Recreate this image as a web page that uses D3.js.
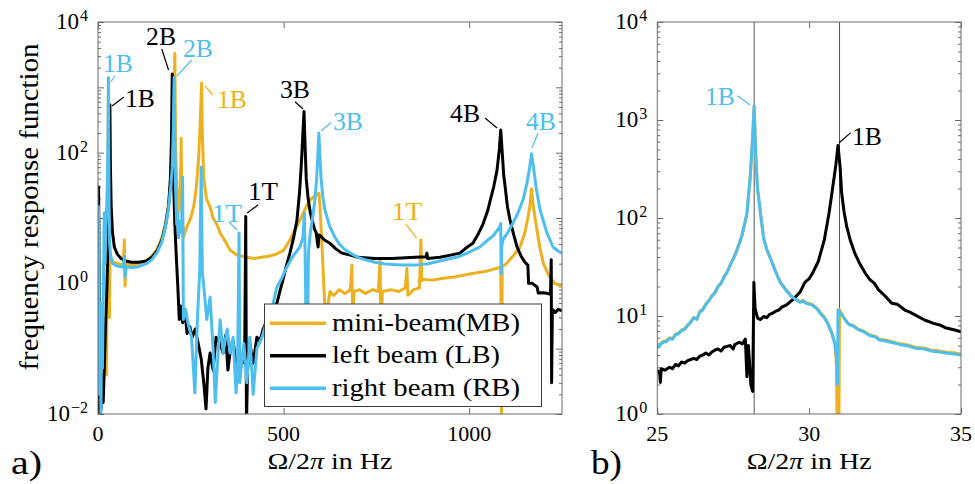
<!DOCTYPE html>
<html>
<head>
<meta charset="utf-8">
<script src="https://cdn.jsdelivr.net/npm/d3@7"></script>
<style>
  html, body { margin: 0; padding: 0; background: #fff; }
  svg { display: block; }
  text { font-family: "Liberation Serif", "Times New Roman", serif; fill: #000; }
</style>
</head>
<body>
<svg id="chart" width="975" height="484"></svg>
<script>
// ---------------------------------------------------------------
// Frequency response functions of the three beams
// ---------------------------------------------------------------
const seriesNames  = ["mini-beam(MB)", "left beam (LB)", "right beam (RB)"];
const seriesKeys   = ["MB", "LB", "RB"];
const seriesColors = ["#EDB120", "#000000", "#4DBEEE"];

// panel a) axes
const freqDomainA  = [0, 1250];
const freqTicksA   = [0, 500, 1000];
const decadesA     = [-2, -1, 0, 1, 2, 3, 4];
const decadeLabelsA = [-2, 0, 2, 4];

// panel b) axes
const freqDomainB  = [25, 35];
const freqTicksB   = [25, 30, 35];
const decadesB     = [0, 1, 2, 3, 4];
const decadeLabelsB = [0, 1, 2, 3, 4];

// panel a) measured FRF magnitudes, [frequency in Hz, |H|]
const miniBeamA = [[0.5,0.008],[1.5,5],[3,0.3],[5,0.012],[8,0.1],[11,0.02],[14,0.2],[17,0.05],[20,0.3],[23,0.04],[25,5],[27,100],[28.2,1400],[29,100],[30.2,5],[31,0.3],[32,3],[34,2.6],[40,2.1],[55,2.0],[68,1.9],[71,4.6],[73,0.9],[75,2.0],[90,1.9],[110,2.0],[130,2.2],[145,2.6],[160,3.4],[172,5],[182,8.5],[190,16],[197,40],[202,150],[205,700],[207,3300],[209,150],[212,30],[216,12],[220,20],[223,60],[224,166],[226,15],[230,5],[236,6.5],[242,8],[250,10],[258,15],[265,30],[271,80],[275,250],[279,1170],[281,200],[285,40],[292,20],[302,14.7],[310,10],[320,8],[329,5.9],[345,4.2],[356,3.2],[375,2.7],[400,2.5],[420,2.4],[440,2.5],[460,2.6],[480,2.8],[500,3.2],[517,4.6],[530,6.5],[544,9.3],[556,13],[570,18.7],[585,22],[595,24],[598,15],[604,3.2],[610,0.6],[613,0.3],[616,0.05],[620,0.5],[625,0.75],[635,0.65],[650,0.8],[665,0.7],[680,0.8],[684,1.9],[686,0.3],[690,0.75],[705,0.8],[720,0.7],[740,0.8],[755,0.75],[760,2.3],[762,0.2],[766,0.75],[790,0.8],[810,0.75],[828,0.85],[832,1.7],[835,0.65],[850,0.8],[866,0.85],[870,4.6],[872,1.1],[880,1.15],[900,1.12],[930,1.2],[960,1.25],[990,1.35],[1020,1.45],[1050,1.55],[1075,1.7],[1085,1.8],[1087,0.008],[1089,1.8],[1100,2.0],[1120,2.7],[1137,3.6],[1150,6],[1158,10],[1164,16],[1168,28],[1172,16],[1180,8],[1190,3.6],[1200,2.0],[1215,1.3],[1230,1.0],[1250,0.9]];

const leftBeamA = [[0.5,0.008],[1.5,30],[3,2],[5,0.05],[8,0.012],[11,0.04],[14,0.015],[17,0.05],[20,0.2],[24,0.8],[27,4],[29.5,20],[31,110],[32,540],[33.5,60],[35.5,15],[39,6],[44,3.6],[52,2.8],[62,2.4],[75,2.2],[90,2.1],[110,2.1],[130,2.2],[145,2.5],[160,3.2],[172,4.6],[182,7.8],[190,15],[195,40],[198,160],[200,1600],[202,200],[204,30],[207,8],[211,2.5],[215,0.9],[219,0.28],[223,0.45],[228,0.25],[234,0.4],[240,0.17],[247,0.22],[254,0.15],[262,0.2],[270,0.12],[278,0.07],[285,0.03],[291,0.012],[296,0.05],[302,0.086],[310,0.047],[318,0.15],[329,0.12],[337,0.086],[344,0.16],[350,0.047],[357,0.1],[364,0.13],[372,0.06],[383,0.047],[390,0.07],[395,0.06],[398,10.5],[400,0.007],[403,0.05],[409,0.12],[418,0.06],[428,0.15],[436,0.13],[445,0.2],[455,0.27],[468,0.35],[482,0.5],[490,0.75],[498,1.12],[508,1.9],[517,2.9],[527,5],[536,9.3],[543,25],[548,70],[552,200],[555,425],[558,120],[561,40],[566,20],[572,12],[577,9.3],[583,6.8],[588,5.9],[591,4.2],[593,3.6],[595,5.5],[600,5.3],[610,4.6],[625,4.1],[640,3.4],[657,2.9],[680,2.7],[700,2.5],[746,2.4],[792,2.4],[854,2.5],[884,2.55],[886,2.9],[888,2.4],[921,2.5],[950,2.7],[975,2.9],[995,3.6],[1010,4.1],[1025,5.8],[1037,8],[1050,13],[1056,18],[1066,30],[1075,54],[1081,110],[1085,222],[1089,100],[1093,45],[1096,33],[1103,15],[1110,9.3],[1120,5.5],[1129,3.6],[1140,2.6],[1150,2.1],[1158,1.9],[1160,1.0],[1170,1.0],[1183,0.88],[1186,0.71],[1200,0.72],[1212,0.7],[1219,0.68],[1221,2.3],[1222,0.03],[1224,0.4],[1232,0.36],[1240,0.4],[1250,0.38]];

const rightBeamA = [[0.5,0.5],[1,15],[2.5,6],[4,0.02],[6,0.5],[8,0.01],[10,0.3],[12,0.05],[14,0.5],[17,12],[19,2],[21,6],[23,13],[25,30],[26.5,100],[27.5,400],[28.2,1400],[29,120],[30,15],[31.5,4],[34,2.6],[40,2.0],[50,1.85],[62,1.8],[68,1.75],[71,2.6],[73,1.25],[76,1.8],[90,1.75],[110,1.8],[130,2.0],[145,2.3],[160,3.0],[172,4.3],[182,7.5],[190,14],[196,30],[200,60],[203,250],[205,1400],[207,150],[209,30],[212,8],[214,12],[217,5],[221,9],[225,6],[228,42],[230,0.28],[236,0.4],[242,0.25],[252,0.15],[261,0.021],[268,0.3],[274,1.5],[278,60],[281,1.5],[285,0.9],[293,0.28],[302,0.62],[310,0.1],[316,0.015],[321,0.05],[329,0.275],[337,0.086],[348,0.2],[356,0.086],[364,0.15],[372,0.021],[376,0.05],[380,5.9],[382,0.03],[387,0.06],[393,0.12],[401,0.03],[409,0.15],[418,0.02],[428,0.1],[442,0.15],[455,0.27],[468,0.4],[482,0.88],[495,1.2],[509,1.78],[525,2.6],[544,3.6],[552,5],[556,11.8],[558,3],[561,0.12],[564,0.05],[567,3],[572,6],[578,10],[584,18],[589,40],[593,110],[595,200],[597,110],[601,40],[606,20],[611,13.5],[624,7.5],[638,5.1],[650,4.0],[665,3.3],[680,2.9],[700,2.5],[720,2.3],[746,2.1],[770,2.0],[792,1.95],[820,1.9],[854,1.9],[890,2.0],[921,2.2],[950,2.4],[975,2.6],[1000,3.0],[1029,3.6],[1050,4.6],[1064,5.3],[1076,6.5],[1082,7.2],[1085,8.2],[1086,1.4],[1088,3.8],[1092,4.8],[1104,6],[1118,8.4],[1130,11.5],[1145,19],[1155,33],[1162,55],[1168,96],[1174,55],[1180,30],[1190,14],[1199,9.3],[1210,5.8],[1226,3.6],[1240,3.1],[1250,2.9]];

// panel b) zoom around the first bending modes
const miniBeamB = [[25.0,5.3],[25.05,4.9],[25.1,5.2],[25.2,5.5],[25.3,5.6],[25.4,6.0],[25.5,5.9],[25.6,6.5],[25.7,6.7],[25.8,7.2],[25.9,7.4],[26.0,8.1],[26.1,8.7],[26.2,9.7],[26.3,9.3],[26.4,11.1],[26.5,11.7],[26.6,13.3],[26.7,14.4],[26.8,16.2],[26.9,17.4],[27.0,20.2],[27.1,21.7],[27.2,25.3],[27.3,28.3],[27.4,33.3],[27.5,38.4],[27.6,45.5],[27.7,55.5],[27.8,69],[27.95,111],[28.05,242],[28.12,520],[28.19,1380],[28.24,450],[28.3,200],[28.4,111],[28.5,63],[28.6,48.5],[28.75,37.5],[28.9,28.3],[29.05,22.2],[29.2,19.2],[29.3,17.7],[29.4,16.2],[29.5,15.4],[29.6,14.7],[29.7,14.0],[29.8,14.4],[29.9,13.7],[30.0,13.4],[30.1,13.1],[30.2,12.4],[30.3,11.6],[30.4,10.5],[30.5,9.8],[30.6,8.6],[30.75,6.7],[30.85,5.1],[30.9,3.2],[30.92,0.8],[30.98,0.8],[31.0,11.6],[31.1,10.1],[31.2,9.1],[31.3,8.3],[31.45,8.0],[31.6,7.4],[31.8,7.0],[32.0,6.4],[32.2,6.2],[32.3,5.8],[32.5,5.7],[32.7,5.5],[33.0,5.2],[33.2,5.1],[33.5,4.8],[33.8,4.7],[34.0,4.5],[34.3,4.4],[34.5,4.3],[34.8,4.2],[35.0,4.1]];

const leftBeamB = [[25.0,2.8],[25.08,2.6],[25.1,2.1],[25.13,2.9],[25.25,2.8],[25.4,3.0],[25.5,2.9],[25.6,3.2],[25.7,3.1],[25.8,3.4],[25.9,3.3],[26.0,3.5],[26.1,3.6],[26.2,3.7],[26.3,3.6],[26.4,3.9],[26.5,4.0],[26.6,4.2],[26.7,4.0],[26.8,4.3],[26.9,4.5],[27.0,4.6],[27.1,4.4],[27.2,4.8],[27.3,4.9],[27.4,5.0],[27.5,4.6],[27.55,5.1],[27.7,5.4],[27.8,5.2],[27.9,5.8],[27.95,2.4],[28.0,5.0],[28.08,2.0],[28.14,1.7],[28.18,22],[28.22,12],[28.3,9.5],[28.4,9.2],[28.5,9.9],[28.6,9.6],[28.7,10.4],[28.8,10.7],[28.9,11.2],[29.0,11.5],[29.1,12.3],[29.26,13],[29.4,14.2],[29.5,15],[29.6,16.3],[29.7,17.5],[29.86,22],[30.0,24],[30.13,28],[30.3,36],[30.5,60],[30.65,110],[30.75,180],[30.88,350],[30.95,550],[31.02,330],[31.07,180],[31.15,115],[31.24,81],[31.35,60],[31.5,44],[31.65,35],[31.84,27.6],[32.0,23.5],[32.15,21.5],[32.28,18.6],[32.5,16],[32.72,13.5],[32.9,13.2],[33.15,11.5],[33.3,11.0],[33.5,10.2],[33.8,9.1],[34.1,8.4],[34.3,8.1],[34.48,7.6],[34.8,7.2],[35.0,6.9]];

const rightBeamB = [[25.0,5.2],[25.05,4.8],[25.1,5.1],[25.2,5.4],[25.3,5.5],[25.4,5.9],[25.5,5.8],[25.6,6.4],[25.7,6.6],[25.8,7.1],[25.9,7.3],[26.0,8.0],[26.1,8.6],[26.2,9.6],[26.3,9.2],[26.4,11],[26.5,11.6],[26.6,13.2],[26.7,14.3],[26.8,16],[26.9,17.2],[27.0,20],[27.1,21.5],[27.2,25],[27.3,28],[27.4,33],[27.5,38],[27.6,45],[27.7,55],[27.8,68],[27.95,110],[28.05,240],[28.12,520],[28.19,1400],[28.24,450],[28.3,200],[28.4,110],[28.5,62],[28.6,48],[28.75,37],[28.9,28],[29.05,22],[29.2,19],[29.3,17.5],[29.4,16],[29.5,15.2],[29.6,14.5],[29.7,13.8],[29.8,14.2],[29.9,13.5],[30.0,13.2],[30.1,12.9],[30.2,12.2],[30.3,11.4],[30.4,10.3],[30.5,9.6],[30.6,8.5],[30.75,6.6],[30.85,5.2],[30.9,3.8],[30.93,2.0],[30.95,11.5],[31.1,10],[31.2,9.0],[31.3,8.2],[31.45,7.9],[31.6,7.3],[31.8,6.9],[32.0,6.3],[32.2,6.1],[32.3,5.7],[32.5,5.6],[32.7,5.4],[33.0,5.1],[33.2,5.0],[33.5,4.7],[33.8,4.6],[34.0,4.4],[34.3,4.3],[34.5,4.2],[34.8,4.1],[35.0,4.0]];

// natural frequencies marked in panel b)
const modeLinesB = [28.19, 31.0];

// mode labels: text, series, peak frequency, peak magnitude
const peakLabelsA = [
  ["1B", "RB", 28.2, 1400],
  ["1B", "LB", 32, 540],
  ["2B", "LB", 200, 1600],
  ["2B", "RB", 205, 1400],
  ["1B", "MB", 279, 1170],
  ["3B", "LB", 555, 425],
  ["3B", "RB", 595, 200],
  ["4B", "LB", 1085, 222],
  ["4B", "RB", 1168, 96],
  ["1T", "RB", 380, 5.9],
  ["1T", "LB", 398, 10.5],
  ["1T", "MB", 870, 4.6]
];
const peakLabelsB = [
  ["1B", "RB", 28.19, 1400],
  ["1B", "LB", 30.95, 550]
];

// label placement relative to the peak: text dx,dy and leader x1,y1,x2,y2 (px)
const labelLayoutA = [
  [-5.5, -5.8,   6.5, -2,    2.5, 4],
  [15.1, 2.2,    14.1, -7.8, 2.1, 1.2],
  [-26.2, -29,   -10.5, -25, -3.7, -4],
  [8.9, -20.8,   17.6, -17.8, 2.9, -1.8],
  [15.4, 25.1,   11.4, 12.1, 3.4, 3.1],
  [-24, -13.6,   -9, -9.9,   -1, -2.6],
  [14.1, -3,     12.1, -10.3, 2.1, -2],
  [-50.7, -8,    -15.7, -12, -3.7, -2],
  [-5.6, -23.8,  6.4, -20.8, 0.4, -5.8],
  [-27, -11,     -10, -11,   -2, -3],
  [2.3, -16.6,   12.3, -11.6, 1.3, -3.6],
  [-29, -20,     -15, -16,   -4.3, -2]
];
const labelLayoutB = [
  [-49.2, -0.7,  -16.9, -10, -4.2, -0.7],
  [14, -0.5,     12.7, -12.8, 1, -2.5]
];

// ---------------------------------------------------------------
const svg = d3.select("#chart");
const AXIS = "#6b6b6b";
const colorOf = k => seriesColors[seriesKeys.indexOf(k)];

function drawPanel(p) {
  const g = svg.append("g");
  const [x0, x1] = p.x.range();
  const [y1, y0] = p.y.range();

  // clip region for the curves
  g.append("clipPath").attr("id", p.id)
    .append("rect").attr("x", x0).attr("y", y0)
    .attr("width", x1 - x0).attr("height", y1 - y0);

  // ticks on all four sides, pointing inward
  const decades = p.decades.map(e => Math.pow(10, e));
  const minor = p.y.ticks().filter(v => {
    const e = Math.log10(v);
    return Math.abs(e - Math.round(e)) > 1e-6;
  });
  const tickStyle = sel => {
    sel.select(".domain").remove();
    sel.selectAll("line").attr("stroke", AXIS).attr("stroke-width", 1);
    sel.selectAll("text").remove();
  };
  g.append("g").attr("transform", `translate(${x0},0)`)
    .call(d3.axisLeft(p.y).tickValues(decades).tickSize(-6).tickFormat("")).call(tickStyle);
  g.append("g").attr("transform", `translate(${x0},0)`)
    .call(d3.axisLeft(p.y).tickValues(minor).tickSize(-3).tickFormat("")).call(tickStyle);
  g.append("g").attr("transform", `translate(${x1},0)`)
    .call(d3.axisRight(p.y).tickValues(decades).tickSize(-6).tickFormat("")).call(tickStyle);
  g.append("g").attr("transform", `translate(${x1},0)`)
    .call(d3.axisRight(p.y).tickValues(minor).tickSize(-3).tickFormat("")).call(tickStyle);
  g.append("g").attr("transform", `translate(0,${y1})`)
    .call(d3.axisBottom(p.x).tickValues(p.xTicks).tickSize(-6).tickFormat("")).call(tickStyle);
  g.append("g").attr("transform", `translate(0,${y0})`)
    .call(d3.axisTop(p.x).tickValues(p.xTicks).tickSize(-6).tickFormat("")).call(tickStyle);

  // vertical marker lines
  g.selectAll(".mode").data(p.modeLines || []).join("line")
    .attr("x1", d => p.x(d)).attr("x2", d => p.x(d))
    .attr("y1", y0).attr("y2", y1)
    .attr("stroke", "#555").attr("stroke-width", 1);

  // curves
  const line = d3.line().x(d => p.x(d[0])).y(d => p.y(d[1]));
  const curves = g.append("g").attr("clip-path", `url(#${p.id})`);
  p.series.forEach((s, i) => {
    curves.append("path").datum(s)
      .attr("d", line).attr("fill", "none")
      .attr("stroke", seriesColors[i]).attr("stroke-width", 3)
      .attr("stroke-linejoin", "round").attr("stroke-linecap", "butt");
  });

  // frame
  g.append("rect").attr("x", x0).attr("y", y0)
    .attr("width", x1 - x0).attr("height", y1 - y0)
    .attr("fill", "none").attr("stroke", AXIS).attr("stroke-width", 1);

  // x tick labels
  g.selectAll(".xl").data(p.xTicks).join("text")
    .attr("x", d => p.x(d)).attr("y", y1 + 27)
    .attr("text-anchor", "middle").attr("font-size", 22)
    .text(d => d);

  // y tick labels, 10^k
  p.decadeLabels.forEach(e => {
    const t = g.append("text").attr("x", x0 - 10).attr("y", p.y(Math.pow(10, e)) + 7)
      .attr("text-anchor", "end").attr("font-size", 23);
    t.append("tspan").text("10");
    t.append("tspan").attr("dy", -8).attr("dx", 1).attr("font-size", 16)
      .text(e < 0 ? "\u2212" + (-e) : String(e));
  });

  // x axis title
  const xt = g.append("text").attr("x", (x0 + x1) / 2).attr("y", 469)
    .attr("text-anchor", "middle").attr("font-size", 24)
    .attr("textLength", 125).attr("lengthAdjust", "spacingAndGlyphs");
  xt.append("tspan").text("\u03A9/2");
  xt.append("tspan").attr("font-style", "italic").text("\u03C0");
  xt.append("tspan").text(" in Hz");

  // panel letter
  g.append("text").attr("x", p.letterX).attr("y", 474)
    .attr("font-size", 33).attr("textLength", 31).attr("lengthAdjust", "spacingAndGlyphs")
    .text(p.letter);

  // mode labels with leader lines
  p.labels.forEach((lab, i) => {
    const [txt, key, f, v] = lab;
    const [tdx, tdy, lx1, ly1, lx2, ly2] = p.layout[i];
    const px = p.x(f), py = p.y(v);
    const c = colorOf(key);
    g.append("line")
      .attr("x1", px + lx1).attr("y1", py + ly1)
      .attr("x2", px + lx2).attr("y2", py + ly2)
      .attr("stroke", c).attr("stroke-width", 1.2);
    g.append("text").attr("x", px + tdx).attr("y", py + tdy)
      .attr("font-size", 25).attr("textLength", 30).attr("lengthAdjust", "spacingAndGlyphs")
      .style("fill", c).text(txt);
  });
  return g;
}

const xA = d3.scaleLinear().domain(freqDomainA).range([98, 562]);
const yA = d3.scaleLog().domain([1e-2, 1e4]).range([414, 22]);
const gA = drawPanel({
  id: "clipA", x: xA, y: yA, xTicks: freqTicksA,
  decades: decadesA, decadeLabels: decadeLabelsA,
  series: [miniBeamA, leftBeamA, rightBeamA],
  labels: peakLabelsA, layout: labelLayoutA,
  letter: "a)", letterX: 11
});

const xB = d3.scaleLinear().domain(freqDomainB).range([657.3, 961]);
const yB = d3.scaleLog().domain([1, 1e4]).range([414, 22]);
drawPanel({
  id: "clipB", x: xB, y: yB, xTicks: freqTicksB,
  decades: decadesB, decadeLabels: decadeLabelsB,
  series: [miniBeamB, leftBeamB, rightBeamB],
  modeLines: modeLinesB,
  labels: peakLabelsB, layout: labelLayoutB,
  letter: "b)", letterX: 591
});

// y axis title of panel a)
svg.append("text")
  .attr("transform", "translate(38,207) rotate(-90)")
  .attr("text-anchor", "middle").attr("font-size", 27)
  .attr("textLength", 327).attr("lengthAdjust", "spacingAndGlyphs")
  .text("frequency response function");

// legend of panel a)
const legend = gA.append("g");
legend.append("rect").attr("x", 264.5).attr("y", 304).attr("width", 277).attr("height", 102.5)
  .attr("fill", "#fff").attr("stroke", "#3a3a3a").attr("stroke-width", 1);
const legendRowY = d3.scalePoint().domain(seriesNames).range([323.3, 388.3]);
const legendTextWidth = [188, 168, 188];
seriesNames.forEach((name, i) => {
  const yy = legendRowY(name);
  legend.append("line").attr("x1", 270).attr("x2", 326).attr("y1", yy).attr("y2", yy)
    .attr("stroke", seriesColors[i]).attr("stroke-width", 3.5);
  legend.append("text").attr("x", 332).attr("y", yy + 7.5)
    .attr("font-size", 25).attr("textLength", legendTextWidth[i]).attr("lengthAdjust", "spacingAndGlyphs")
    .text(name);
});
</script>
</body>
</html>
